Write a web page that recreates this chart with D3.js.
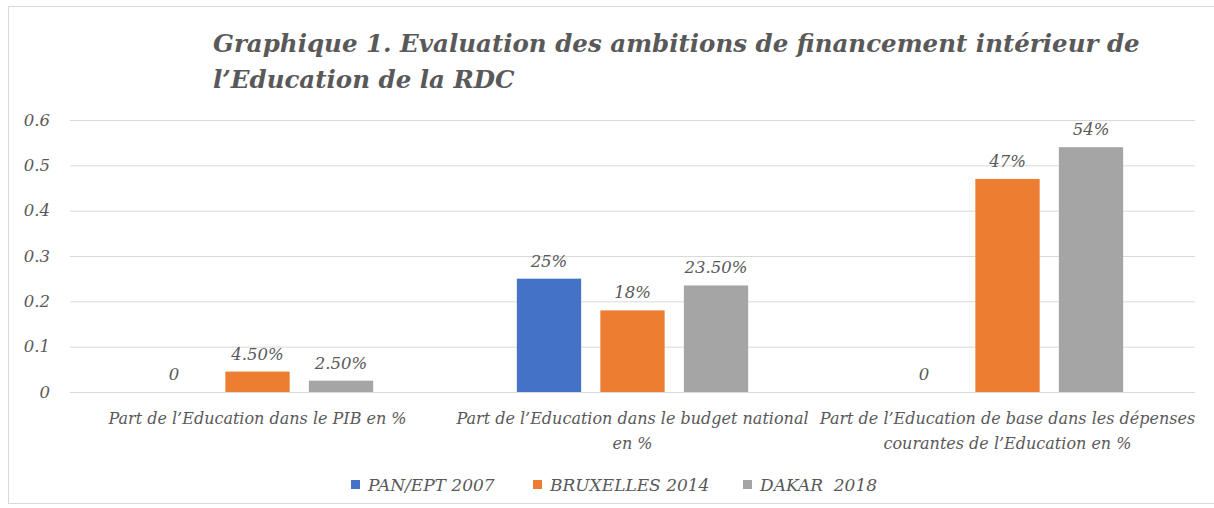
<!DOCTYPE html>
<html>
<head>
<meta charset="utf-8">
<script src="https://cdn.jsdelivr.net/npm/d3@7"></script>
<style>
  body { margin: 0; background: #fff; }
  text { font-family: "DejaVu Serif", serif; font-style: italic; fill: #595959; }
</style>
</head>
<body>
<div id="chart"></div>
<script>
// data
var categories = [
  ["Part de l\u2019Education dans le PIB en %"],
  ["Part de l\u2019Education dans le budget national", "en %"],
  ["Part de l\u2019Education de base dans les d\u00e9penses", "courantes de l\u2019Education en %"]
];
var series = ["PAN/EPT 2007", "BRUXELLES 2014", "DAKAR  2018"];
var colors = ["#4472C4", "#ED7D31", "#A5A5A5"];
var panEpt2007 = [0, 0.25, 0];
var bruxelles2014 = [0.045, 0.18, 0.47];
var dakar2018 = [0.025, 0.235, 0.54];
var labels2007 = ["0", "25%", "0"];
var labels2014 = ["4.50%", "18%", "47%"];
var labels2018 = ["2.50%", "23.50%", "54%"];
var yTicks = [0, 0.1, 0.2, 0.3, 0.4, 0.5, 0.6];

var values = [panEpt2007, bruxelles2014, dakar2018];
var labels = [labels2007, labels2014, labels2018];

var W = 1214, H = 508;
var margin = {top: 120, right: 19, bottom: 116, left: 70},
    width = W - margin.left - margin.right,
    height = H - margin.top - margin.bottom;

var svg = d3.select("#chart").append("svg")
    .attr("width", W)
    .attr("height", H);

// chart frame
svg.append("rect")
    .attr("x", 8.5).attr("y", 6.5)
    .attr("width", W - 4).attr("height", 497)
    .attr("fill", "none")
    .attr("stroke", "#d9d9d9");

// title
var title = svg.append("text")
    .style("font-size", "24.5px")
    .style("font-weight", "bold")
    .style("fill", "#595959");
title.append("tspan").attr("x", 213).attr("y", 52)
    .text("Graphique 1. Evaluation des ambitions de financement int\u00e9rieur de");
title.append("tspan").attr("x", 213).attr("y", 88)
    .text("l\u2019Education de la RDC");

var g = svg.append("g")
    .attr("transform", "translate(" + margin.left + "," + margin.top + ")");

var x0 = d3.scaleBand()
    .domain(d3.range(categories.length))
    .range([0, width])
    .paddingInner(0)
    .paddingOuter(0);

var x1 = d3.scaleBand()
    .domain(d3.range(series.length))
    .range([0, x0.bandwidth()])
    .paddingInner(0.23)
    .paddingOuter(0.86);

var y = d3.scaleLinear()
    .domain([0, 0.6])
    .range([height, 0]);

// gridlines + y labels
var yAxis = g.append("g")
    .call(d3.axisLeft(y)
      .tickValues(yTicks)
      .tickSize(-width)
      .tickPadding(20)
      .tickFormat(function(d) { return d === 0 ? "0" : d3.format(".1f")(d); }));
yAxis.select(".domain").remove();
yAxis.selectAll("line").attr("stroke", "#d9d9d9");
yAxis.selectAll("text")
    .style("font-size", "16.5px")
    .style("font-family", "DejaVu Serif, serif")
    .attr("fill", "#595959");

// bars
var groups = g.selectAll(".cat")
  .data(d3.range(categories.length))
  .enter().append("g")
    .attr("class", "cat")
    .attr("transform", function(i) { return "translate(" + x0(i) + ",0)"; });

groups.selectAll("rect")
  .data(function(i) { return series.map(function(s, k) { return {k: k, v: values[k][i]}; }); })
  .enter().append("rect")
    .attr("x", function(d) { return x1(d.k); })
    .attr("y", function(d) { return y(d.v); })
    .attr("width", x1.bandwidth())
    .attr("height", function(d) { return height - y(d.v); })
    .attr("fill", function(d) { return colors[d.k]; });

groups.selectAll("text.val")
  .data(function(i) { return series.map(function(s, k) { return {k: k, v: values[k][i], t: labels[k][i]}; }); })
  .enter().append("text")
    .attr("class", "val")
    .attr("x", function(d) { return x1(d.k) + x1.bandwidth() / 2; })
    .attr("y", function(d) { return y(d.v) - 12; })
    .attr("text-anchor", "middle")
    .style("font-size", "16.5px")
    .text(function(d) { return d.t; });

// category labels
groups.append("text")
    .attr("class", "cat-label")
    .attr("text-anchor", "middle")
    .style("font-size", "16px")
    .selectAll("tspan")
    .data(function(i) { return categories[i]; })
    .enter().append("tspan")
      .attr("x", x0.bandwidth() / 2)
      .attr("y", function(d, j) { return height + 32 + j * 25; })
      .text(function(d) { return d; });

// legend
var legendX = [351, 533, 743];
var legend = svg.append("g").attr("transform", "translate(0,485)");
var items = legend.selectAll("g")
  .data(series)
  .enter().append("g")
    .attr("transform", function(d, i) { return "translate(" + legendX[i] + ",0)"; });
items.append("rect")
    .attr("x", 0).attr("y", -5)
    .attr("width", 9).attr("height", 9)
    .attr("fill", function(d, i) { return colors[i]; });
items.append("text")
    .attr("x", 17).attr("y", 6)
    .style("font-size", "17px")
    .style("white-space", "pre")
    .text(function(d) { return d; });
</script>
</body>
</html>
